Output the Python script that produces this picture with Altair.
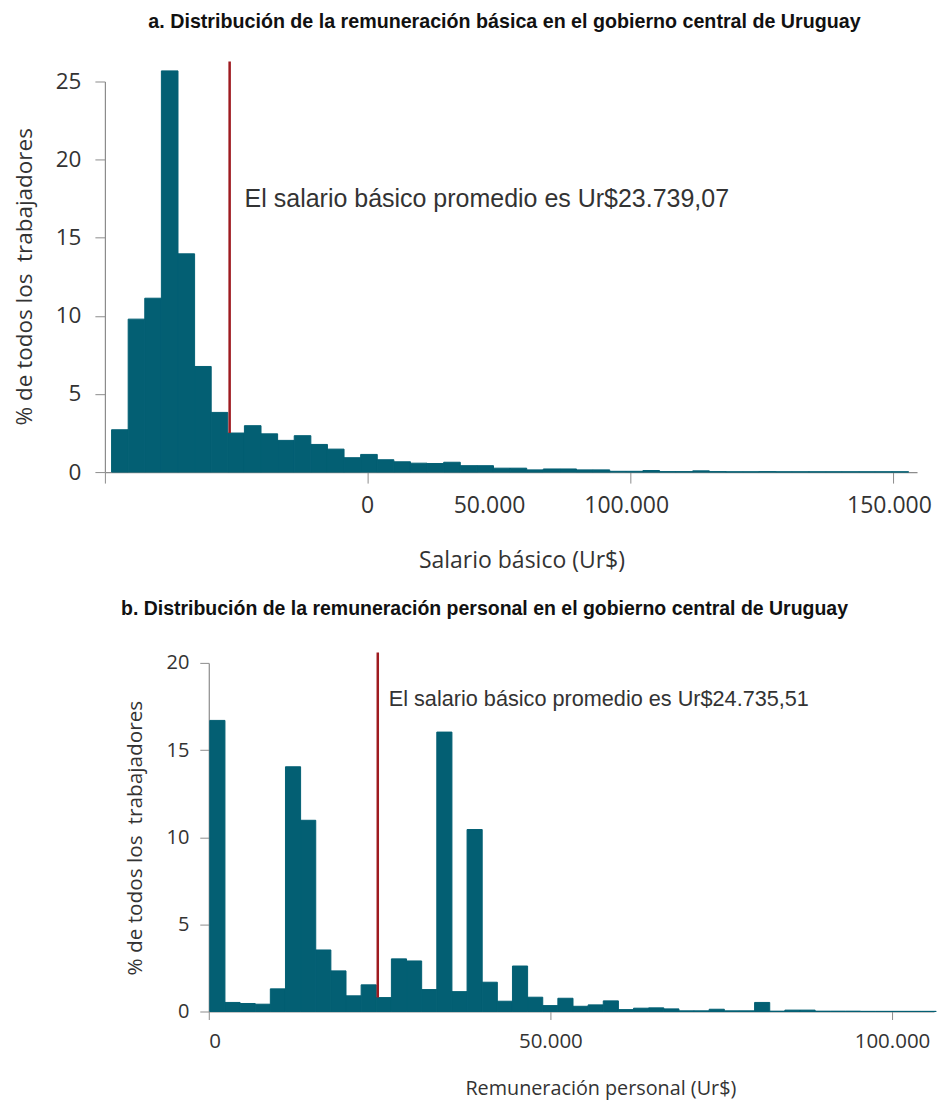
import altair as alt
import pandas as pd

# ---------------- data ----------------
basic_pct = [2.71, 9.79, 11.13, 25.68, 13.97, 6.76, 3.82, 2.50, 2.97, 2.45,
             2.03, 2.33, 1.77, 1.47, 0.92, 1.13, 0.79, 0.66, 0.57, 0.55,
             0.63, 0.41, 0.41, 0.25, 0.25, 0.14, 0.20, 0.20, 0.14, 0.14,
             0.05, 0.05, 0.10, 0.03, 0.03, 0.08, 0.03, 0.02, 0.02, 0.03,
             0.02, 0.02, 0.02, 0.02, 0.02, 0.02, 0.02, 0.02]
personal_pct = [16.70, 0.52, 0.46, 0.42, 1.30, 14.04, 10.97, 3.53, 2.33, 0.90,
                1.53, 0.80, 3.02, 2.90, 1.26, 16.03, 1.14, 10.44, 1.68, 0.59,
                2.61, 0.82, 0.34, 0.76, 0.30, 0.38, 0.61, 0.11, 0.19, 0.21,
                0.15, 0.04, 0.04, 0.13, 0.04, 0.04, 0.52, 0.02, 0.08, 0.08,
                0.02, 0.02, 0.02, 0.01, 0.01, 0.01, 0.01, 0.01]

BASIC_BIN_START, BASIC_BIN_WIDTH = 1270, 3160
PERS_BIN_START, PERS_BIN_WIDTH = 150, 2215

basic_mean = 23739.07
personal_mean = 24735.51
basic_line_top = 26.28
personal_line_top = 20.6

basic_ticks = [0, 50000, 100000, 150000]
basic_tick_labels = ["0", "50.000", "100.000", "150.000"]
basic_tick_label_pos = [50000, 73200, 99300, 149300]
personal_ticks = [0, 50000, 100000]
basic_y_ticks = [0, 5, 10, 15, 20, 25]
personal_y_ticks = [0, 5, 10, 15, 20]

title_a = "a. Distribución de la remuneración básica en el gobierno central de Uruguay"
title_b = "b. Distribución de la remuneración personal en el gobierno central de Uruguay"
ytitle = "% de todos los\u00a0 trabajadores"
xtitle_a = "Salario básico (Ur$)"
xtitle_b = "Remuneración personal (Ur$)"
note_a = "El salario básico promedio es Ur$23.739,07"
note_b = "El salario básico promedio es Ur$24.735,51"

TEAL = "#035f73"
RED = "#9e1b20"
AXIS = "#8c8c8c"
TXT = "#333333"


def bins(pcts, start, width):
    df = pd.DataFrame({"pct": pcts})
    df["x0"] = [start + i * width for i in range(len(pcts))]
    df["x1"] = df["x0"] + width
    return df


df_a = bins(basic_pct, BASIC_BIN_START, BASIC_BIN_WIDTH)
df_b = bins(personal_pct, PERS_BIN_START, PERS_BIN_WIDTH)


def bar_at(df, v):
    row = df[(df.x0 <= v) & (df.x1 > v)]
    return float(row.pct.iloc[0])


def one():
    return alt.Chart(pd.DataFrame({"d": [0]}))


PAD = 3

# ================= panel a =================
W_A, H_A = 813, 391
xa = alt.X("x0:Q", scale=alt.Scale(domain=[0, 154550], nice=False, zero=False),
           axis=alt.Axis(values=basic_ticks, labels=False, tickSize=11,
                         grid=False, domainColor=AXIS, tickColor=AXIS,
                         domainWidth=1.2, title=xtitle_a, titleX=417, titleY=89,
                         titleAlign="center", titleBaseline="middle",
                         titleFont="Open Sans", titleFontSize=23,
                         titleFontWeight="normal", titleColor=TXT))
ya = alt.Y("pct:Q", scale=alt.Scale(domain=[0, 25], nice=False),
           axis=alt.Axis(values=basic_y_ticks, tickSize=10, grid=False,
                         domainColor=AXIS, tickColor=AXIS, domainWidth=1.2,
                         labelFont="Open Sans", labelFontSize=22.5,
                         labelColor=TXT, labelPadding=14,
                         title=ytitle, titleAngle=270, titleX=-80, titleY=195,
                         titleAlign="center", titleBaseline="middle",
                         titleFont="Open Sans", titleFontSize=22.5,
                         titleFontWeight="normal", titleColor=TXT))
bars_a = alt.Chart(df_a).mark_rect(fill=TEAL, stroke=TEAL, strokeWidth=1,
                                   opacity=1).encode(
    x=xa, x2="x1:Q", y=ya, y2=alt.datum(0))
rule_a = alt.Chart(pd.DataFrame({"x0": [basic_mean], "top": [basic_line_top],
                                 "bottom": [bar_at(df_a, basic_mean)]})
                   ).mark_rule(color=RED, strokeWidth=2.5).encode(
    x="x0:Q", y="top:Q", y2="bottom:Q")
note_a_ch = alt.Chart(pd.DataFrame({"x0": [basic_mean], "pct": [17.5], "t": [note_a]})
                      ).mark_text(align="left", baseline="middle", dx=15,
                                  font="Liberation Sans", fontSize=25,
                                  color=TXT).encode(x="x0:Q", y="pct:Q", text="t:N")
xlabels_a = alt.Chart(pd.DataFrame({"x0": basic_tick_label_pos, "t": basic_tick_labels})
                      ).mark_text(align="center", baseline="middle",
                                  font="Open Sans", fontSize=23,
                                  color=TXT).encode(x="x0:Q", y=alt.value(425), text="t:N")
title_a_ch = one().mark_text(align="center", baseline="middle",
                             font="Liberation Sans", fontSize=19.7,
                             fontWeight="bold", color="#111111").encode(
    x=alt.value(400), y=alt.value(-60), text=alt.value(title_a))
spacer_a = one().mark_rect(opacity=0).encode(
    x=alt.value(-(97 - PAD)), x2=alt.value(-(96 - PAD)), y=alt.value(0), y2=alt.value(1))

top = alt.layer(bars_a, rule_a, note_a_ch, xlabels_a, title_a_ch, spacer_a
                ).properties(width=W_A, height=H_A)

# ================= panel b =================
SHIFT_B = 104
W_B, H_B = 726, 349
xb = alt.X("x0:Q", scale=alt.Scale(domain=[0, 106150], nice=False, zero=False,
                                   range=[SHIFT_B, SHIFT_B + W_B]),
           axis=alt.Axis(values=personal_ticks, tickSize=8, grid=False,
                         domainColor=AXIS, tickColor=AXIS, domainWidth=1.2,
                         labelFont="Open Sans", labelFontSize=20.5,
                         labelColor=TXT, labelPadding=12,
                         labelExpr="datum.value == 0 ? '0' : replace(format(datum.value, ','), ',', '.')",
                         title=xtitle_b, titleX=496, titleY=77,
                         titleAlign="center", titleBaseline="middle",
                         titleFont="Open Sans", titleFontSize=19.8,
                         titleFontWeight="normal", titleColor=TXT))
yb = alt.Y("pct:Q", scale=alt.Scale(domain=[0, 20], nice=False),
           axis=alt.Axis(values=personal_y_ticks, tickSize=9, grid=False,
                         offset=-SHIFT_B,
                         domainColor=AXIS, tickColor=AXIS, domainWidth=1.2,
                         labelFont="Open Sans", labelFontSize=20,
                         labelColor=TXT, labelPadding=11,
                         title=ytitle, titleAngle=270, titleX=-73.5, titleY=175,
                         titleAlign="center", titleBaseline="middle",
                         titleFont="Open Sans", titleFontSize=20.8,
                         titleFontWeight="normal", titleColor=TXT))
bars_b = alt.Chart(df_b).mark_rect(fill=TEAL, stroke=TEAL, strokeWidth=1,
                                   opacity=1).encode(
    x=xb, x2="x1:Q", y=yb, y2=alt.datum(0))
rule_b = alt.Chart(pd.DataFrame({"x0": [personal_mean], "top": [personal_line_top],
                                 "bottom": [bar_at(df_b, personal_mean)]})
                   ).mark_rule(color=RED, strokeWidth=2.5).encode(
    x="x0:Q", y="top:Q", y2="bottom:Q")
note_b_ch = alt.Chart(pd.DataFrame({"x0": [personal_mean], "pct": [17.9], "t": [note_b]})
                      ).mark_text(align="left", baseline="middle", dx=11,
                                  font="Liberation Sans", fontSize=21.7,
                                  color=TXT).encode(x="x0:Q", y="pct:Q", text="t:N")
title_b_ch = one().mark_text(align="center", baseline="middle",
                             font="Liberation Sans", fontSize=19.5,
                             fontWeight="bold", color="#111111").encode(
    x=alt.value(380), y=alt.value(-54), text=alt.value(title_b))

bottom = alt.layer(bars_b, rule_b, note_b_ch, title_b_ch
                   ).properties(width=SHIFT_B + W_B, height=H_B)

chart = alt.vconcat(top, bottom, spacing=26).properties(
    padding={"left": PAD, "top": PAD, "right": 2, "bottom": 6}
).configure_view(stroke=None)

chart.save("out.html", embed_options={"renderer": "svg", "actions": False})
